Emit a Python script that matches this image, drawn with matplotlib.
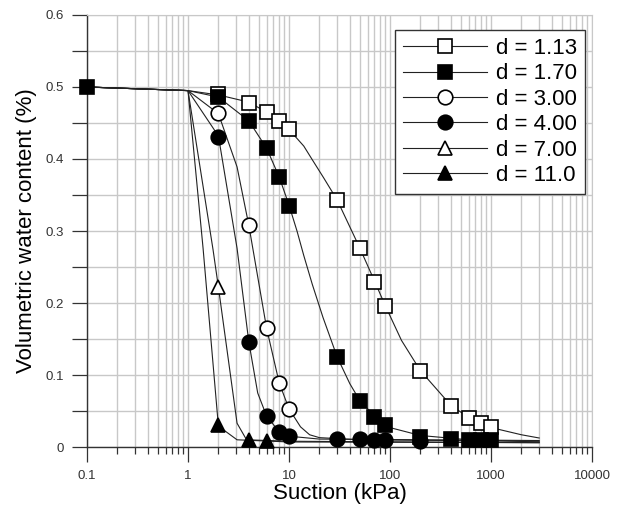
import numpy as np
import matplotlib
matplotlib.use("Agg")
import matplotlib.pyplot as plt
from matplotlib.ticker import FixedLocator, NullFormatter

plt.rcParams['font.family'] = ['Liberation Sans', 'DejaVu Sans']

# measured points (suction kPa, volumetric water content)
labels = ['d = 1.13', 'd = 1.70', 'd = 3.00', 'd = 4.00', 'd = 7.00', 'd = 11.0']

x_113 = [2, 4, 6, 8, 10, 30, 50, 70, 90, 200, 400, 600, 800, 1000]
y_113 = [0.490, 0.478, 0.465, 0.453, 0.441, 0.343, 0.276, 0.229, 0.196, 0.106, 0.057, 0.040, 0.033, 0.028]
x_170 = [0.1, 2, 4, 6, 8, 10, 30, 50, 70, 90, 200, 400, 600, 800, 1000]
y_170 = [0.5, 0.486, 0.453, 0.415, 0.375, 0.335, 0.125, 0.064, 0.042, 0.031, 0.014, 0.011, 0.010, 0.010, 0.010]
x_300 = [2, 4, 6, 8, 10]
y_300 = [0.464, 0.308, 0.165, 0.089, 0.053]
x_400 = [2, 4, 6, 8, 10, 30, 50, 70, 90, 200]
y_400 = [0.431, 0.146, 0.043, 0.021, 0.015, 0.011, 0.011, 0.010, 0.010, 0.009]
x_700 = [2]
y_700 = [0.222]
x_1100 = [2, 4, 6]
y_1100 = [0.030, 0.010, 0.009]

# fitted curves
cx_113 = [0.1, 1, 2, 4, 6, 8, 10, 14, 17, 22, 30, 50, 70, 90, 130, 200, 400, 600, 1000, 2000, 3000]
cy_113 = [0.5, 0.495, 0.489, 0.479, 0.465, 0.453, 0.441, 0.418, 0.399, 0.374, 0.343, 0.277, 0.231, 0.196, 0.148, 0.106, 0.058, 0.041, 0.027, 0.017, 0.0125]
cx_170 = [0.1, 1, 2, 4, 6, 8, 10, 12, 14, 17, 21.7, 30, 40, 50, 70, 90, 106, 200, 500, 1000, 3000]
cy_170 = [0.5, 0.495, 0.486, 0.453, 0.415, 0.375, 0.336, 0.300, 0.266, 0.226, 0.180, 0.125, 0.088, 0.065, 0.043, 0.031, 0.026, 0.016, 0.011, 0.009, 0.007]
cx_300 = [0.1, 1, 2, 3.06, 4, 6, 8, 10, 13, 16, 20, 50, 3000]
cy_300 = [0.5, 0.495, 0.463, 0.389, 0.308, 0.165, 0.089, 0.053, 0.028, 0.017, 0.013, 0.010, 0.008]
cx_400 = [0.1, 1, 2, 3.06, 4, 4.9, 6, 8, 10, 20, 3000]
cy_400 = [0.5, 0.495, 0.432, 0.276, 0.146, 0.075, 0.043, 0.021, 0.015, 0.011, 0.009]
cx_700 = [0.1, 1, 1.77, 2, 3.06, 3.8, 10, 3000]
cy_700 = [0.5, 0.495, 0.274, 0.222, 0.033, 0.010, 0.008, 0.006]
cx_1100 = [0.1, 1, 1.41, 2, 3.06, 10, 3000]
cy_1100 = [0.5, 0.495, 0.276, 0.029, 0.010, 0.007, 0.006]

x_ticks = [0.1, 1, 10, 100, 1000, 10000]
x_ticklabels = ['0.1', '1', '10', '100', '1000', '10000']
y_ticks = [0, 0.1, 0.2, 0.3, 0.4, 0.5, 0.6]
y_ticklabels = ['0', '0.1', '0.2', '0.3', '0.4', '0.5', '0.6']

points = [(x_113, y_113), (x_170, y_170), (x_300, y_300),
          (x_400, y_400), (x_700, y_700), (x_1100, y_1100)]
curves = [(cx_113, cy_113), (cx_170, cy_170), (cx_300, cy_300),
          (cx_400, cy_400), (cx_700, cy_700), (cx_1100, cy_1100)]
markers = ['s', 's', 'o', 'o', '^', '^']
fills = ['white', 'black', 'white', 'black', 'white', 'black']

fig = plt.figure(figsize=(6.22, 5.07), dpi=100)
ax = fig.add_axes([87/622, 60/507, 505/622, 432/507])

for (cx, cy) in curves:
    ax.plot(cx, cy, '-', color='#222222', lw=0.8, zorder=2)

handles = []
for (px, py), m, fc, lab in zip(points, markers, fills, labels):
    ax.plot(px, py, linestyle='none', marker=m, ms=10.5, mfc=fc, mec='black', mew=1.2,
            zorder=3, clip_on=False)
    h, = ax.plot([], [], '-', color='#222222', lw=0.8, marker=m, ms=10.5, mfc=fc,
                 mec='black', mew=1.2, label=lab)
    handles.append(h)

ax.set_xscale('log')
ax.set_xlim(0.1, 10000)
ax.set_ylim(0, 0.6)

ax.xaxis.set_major_locator(FixedLocator(x_ticks))
ax.set_xticklabels(x_ticklabels)
minors = [m * 10.0 ** e for e in range(-1, 4) for m in range(2, 10)]
ax.xaxis.set_minor_locator(FixedLocator(minors))
ax.xaxis.set_minor_formatter(NullFormatter())
ax.yaxis.set_major_locator(FixedLocator(y_ticks))
ax.set_yticklabels(y_ticklabels)
ax.yaxis.set_minor_locator(FixedLocator([0.05, 0.15, 0.25, 0.35, 0.45, 0.55]))

ax.grid(True, which='both', color='#c8c8c8', lw=1.0)
ax.set_axisbelow(True)
ax.tick_params(axis='both', which='major', direction='out', length=10.5, width=0.9,
               color='#333333', labelsize=9.5, labelcolor='#333333', pad=6)
ax.tick_params(axis='x', which='minor', direction='out', length=5, width=0.9, color='#333333')
ax.tick_params(axis='y', which='minor', direction='out', length=10.5, width=0.9, color='#333333')
for s in ['top', 'right']:
    ax.spines[s].set_color('#c8c8c8')
for s in ['left', 'bottom']:
    ax.spines[s].set_color('#333333')
    ax.spines[s].set_linewidth(1.0)

ax.set_xlabel('Suction (kPa)', fontsize=16, labelpad=1)
ax.set_ylabel('Volumetric water content (%)', fontsize=16, labelpad=6)

leg = ax.legend(handles=handles, loc='upper right', bbox_to_anchor=(0.986, 0.965),
                borderaxespad=0, fontsize=16, handlelength=3.8, handletextpad=0.4,
                labelspacing=0.2, borderpad=0.35, fancybox=False, framealpha=1,
                edgecolor='#333333')
leg.get_frame().set_linewidth(1.0)

plt.savefig('out.png', dpi=100)
